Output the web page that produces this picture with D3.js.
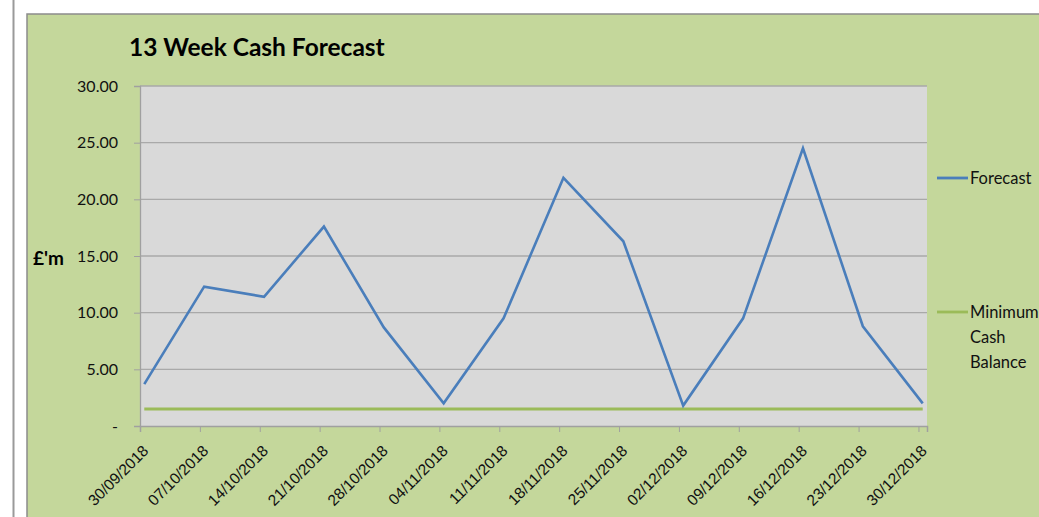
<!DOCTYPE html>
<html>
<head>
<meta charset="utf-8">
<script src="https://cdn.jsdelivr.net/npm/d3@7/dist/d3.min.js"></script>
<style>
  html, body { margin: 0; padding: 0; background: #fff; }
  svg { display: block; font-family: Lato, "Open Sans", sans-serif; }
</style>
</head>
<body>
<svg id="chart" width="1039" height="517"></svg>
<script>
// Weekly dates (week ending) and forecast closing cash, £m
const weeks = ["30/09/2018", "07/10/2018", "14/10/2018", "21/10/2018", "28/10/2018",
  "04/11/2018", "11/11/2018", "18/11/2018", "25/11/2018", "02/12/2018",
  "09/12/2018", "16/12/2018", "23/12/2018", "30/12/2018"];
const forecast = [3.7, 12.3, 11.4, 17.6, 8.7, 2.0, 9.5, 21.9, 16.3, 1.8, 9.5, 24.5, 8.8, 2.0];
const minimumCash = [1.5, 1.5, 1.5, 1.5, 1.5, 1.5, 1.5, 1.5, 1.5, 1.5, 1.5, 1.5, 1.5, 1.5];
const yTicks = [0, 5, 10, 15, 20, 25, 30];
const seriesNames = ["Forecast", "Minimum Cash Balance"];

const parse = d3.utcParse("%d/%m/%Y");
const fmt = d3.utcFormat("%d/%m/%Y");
const dates = weeks.map(parse);
const DAY = 864e5;

const svg = d3.select("#chart");

// page frame: thin grey rule on the left, chart area panel
svg.append("line").attr("x1", 13.5).attr("x2", 13.5).attr("y1", 0).attr("y2", 517)
  .attr("stroke", "#9a9a9a").attr("stroke-width", 2);
svg.append("rect").attr("x", 27).attr("y", 14).attr("width", 1039).attr("height", 520)
  .attr("fill", "#c4d79b").attr("stroke", "#8c8c8c").attr("stroke-width", 1.5);

const plot = { left: 140, top: 86, right: 927, bottom: 426 };

// date axis in days: ticks at the start of each week day, points at the day centre
const x = d3.scaleUtc()
  .domain([dates[0], new Date(+dates[dates.length - 1] + DAY)])
  .range([plot.left, plot.right]);
const y = d3.scaleLinear().domain([0, 30]).range([plot.bottom, plot.top]);

svg.append("rect")
  .attr("x", plot.left).attr("y", plot.top)
  .attr("width", plot.right - plot.left).attr("height", plot.bottom - plot.top)
  .attr("fill", "#d9d9d9");

// horizontal gridlines
svg.append("g").selectAll("line").data(yTicks.filter(v => v > 0)).join("line")
  .attr("x1", plot.left).attr("x2", plot.right)
  .attr("y1", d => y(d)).attr("y2", d => y(d))
  .attr("stroke", "#a9a9a9").attr("stroke-width", 1.3);

// y axis
const yAxis = svg.append("g").attr("transform", `translate(${plot.left},0)`)
  .call(d3.axisLeft(y).tickValues(yTicks).tickSize(6).tickPadding(16)
    .tickFormat(d => d === 0 ? "-" : d3.format(".2f")(d)));
yAxis.select(".domain").attr("stroke", "#a0a0a0").attr("stroke-width", 1.3);
yAxis.selectAll(".tick line").attr("stroke", "#a0a0a0");
yAxis.selectAll("text").attr("font-size", 16).attr("fill", "#111")
  .attr("font-family", "Lato, sans-serif");

// x axis
const xAxis = svg.append("g").attr("transform", `translate(0,${plot.bottom})`)
  .call(d3.axisBottom(x).tickValues(dates).tickSize(6).tickFormat(fmt));
xAxis.select(".domain").attr("stroke", "#a0a0a0").attr("stroke-width", 1.5);
xAxis.selectAll(".tick line").attr("stroke", "#a0a0a0");
xAxis.selectAll("text")
  .attr("font-size", 15.5).attr("fill", "#111")
  .attr("text-anchor", "end")
  .attr("dy", "0.35em").attr("y", 0)
  .attr("transform", "translate(5,22) rotate(-45)");

// series lines
const centre = d => new Date(+d + DAY / 2);
const line = d3.line().x((d, i) => x(centre(dates[i]))).y(d => y(d));

svg.append("path").datum(minimumCash)
  .attr("d", line).attr("fill", "none")
  .attr("stroke", "#9bbb59").attr("stroke-width", 3);
svg.append("path").datum(forecast)
  .attr("d", line).attr("fill", "none")
  .attr("stroke", "#4a7ebb").attr("stroke-width", 2.6)
  .attr("stroke-linejoin", "miter");

// title and axis label
svg.append("text").attr("x", 129).attr("y", 56)
  .attr("font-size", 24.5).attr("font-weight", 700).attr("fill", "#000")
  .text("13 Week Cash Forecast");
svg.append("text").attr("x", 33).attr("y", 265)
  .attr("font-size", 19).attr("font-weight", 700).attr("fill", "#000")
  .text("£'m");

// legend
const legend = svg.append("g");
const legendRows = [
  { name: seriesNames[0], color: "#4a7ebb", y: 178, lines: ["Forecast"] },
  { name: seriesNames[1], color: "#9bbb59", y: 312, lines: ["Minimum", "Cash", "Balance"] }
];
legendRows.forEach(r => {
  legend.append("line").attr("x1", 937).attr("x2", 968).attr("y1", r.y).attr("y2", r.y)
    .attr("stroke", r.color).attr("stroke-width", 2.8);
  const t = legend.append("text").attr("x", 970).attr("y", r.y + 6)
    .attr("font-size", 16.5).attr("fill", "#111");
  r.lines.forEach((s, i) => t.append("tspan").attr("x", 970).attr("dy", i === 0 ? 0 : 25).text(s));
});
</script>
</body>
</html>
